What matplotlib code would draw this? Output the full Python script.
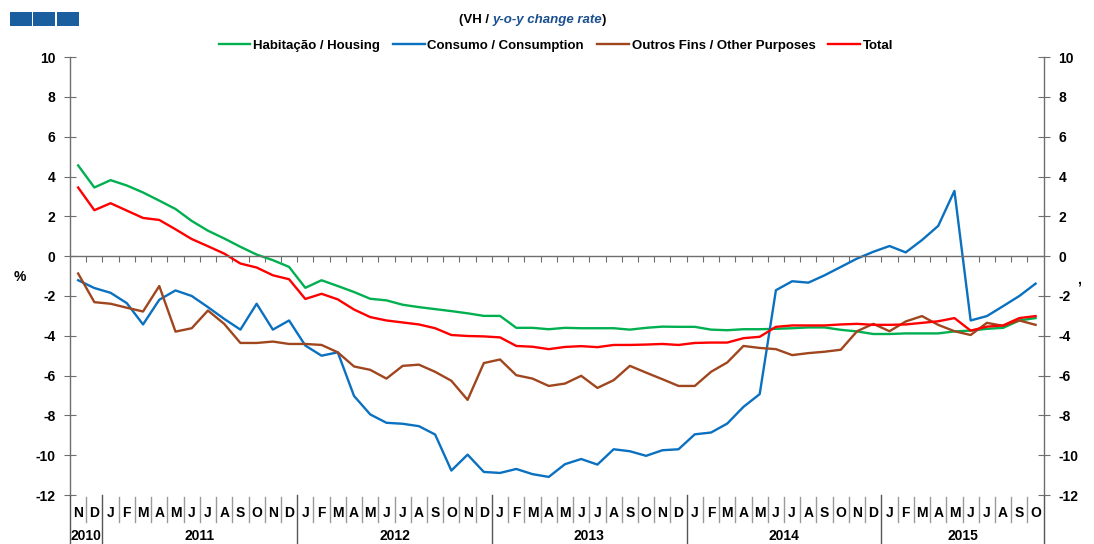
import numpy as np
import matplotlib
matplotlib.use('Agg')
import matplotlib.pyplot as plt
import matplotlib.transforms as mtransforms
from matplotlib.offsetbox import TextArea, HPacker, AnchoredOffsetbox
from matplotlib.patches import Rectangle

plt.rcParams['font.family'] = ['Liberation Sans', 'DejaVu Sans']
plt.rcParams['axes.unicode_minus'] = False

# meses de Nov 2010 a Out 2015
meses = ['N', 'D'] + ['J', 'F', 'M', 'A', 'M', 'J', 'J', 'A', 'S', 'O', 'N', 'D'] * 4 + \
        ['J', 'F', 'M', 'A', 'M', 'J', 'J', 'A', 'S', 'O']
anos = ['2010', '2011', '2012', '2013', '2014', '2015']
meses_por_ano = [2, 12, 12, 12, 12, 10]

habitacao = [4.56, 3.45, 3.82, 3.55, 3.2, 2.79, 2.37, 1.77, 1.28, 0.89, 0.47, 0.08, -0.2, -0.54,
             -1.59, -1.21, -1.5, -1.8, -2.14, -2.22, -2.44, -2.56, -2.66, -2.76, -2.87, -3.0,
             -3.0, -3.6, -3.6, -3.67, -3.6, -3.62, -3.62, -3.62, -3.69, -3.6, -3.54, -3.55,
             -3.55, -3.69, -3.72, -3.67, -3.67, -3.65, -3.62, -3.58, -3.58, -3.7, -3.78, -3.91,
             -3.91, -3.88, -3.88, -3.88, -3.78, -3.74, -3.65, -3.6, -3.23, -3.11]
consumo = [-1.21, -1.6, -1.84, -2.36, -3.43, -2.19, -1.72, -2.0, -2.56, -3.15, -3.69, -2.39, -3.69,
           -3.23, -4.49, -5.0, -4.83, -7.02, -7.95, -8.37, -8.42, -8.54, -8.96, -10.77, -9.97,
           -10.84, -10.89, -10.69, -10.95, -11.09, -10.45, -10.19, -10.47, -9.7, -9.8, -10.03,
           -9.75, -9.7, -8.95, -8.86, -8.41, -7.57, -6.93, -1.71, -1.26, -1.33, -0.96, -0.54,
           -0.12, 0.22, 0.51, 0.19, 0.81, 1.52, 3.28, -3.23, -3.01, -2.51, -2.0, -1.38]
outros = [-0.87, -2.31, -2.39, -2.59, -2.78, -1.5, -3.79, -3.62, -2.73, -3.4, -4.36, -4.36, -4.29,
          -4.41, -4.41, -4.46, -4.83, -5.54, -5.71, -6.15, -5.51, -5.45, -5.81, -6.26, -7.22,
          -5.37, -5.19, -5.98, -6.15, -6.52, -6.4, -6.01, -6.62, -6.23, -5.51, -5.85, -6.18,
          -6.52, -6.52, -5.81, -5.34, -4.51, -4.61, -4.67, -4.97, -4.87, -4.8, -4.7, -3.77,
          -3.4, -3.77, -3.28, -3.01, -3.45, -3.77, -3.96, -3.35, -3.5, -3.23, -3.45]
total = [3.45, 2.31, 2.66, 2.29, 1.92, 1.82, 1.35, 0.86, 0.5, 0.13, -0.37, -0.57, -0.96, -1.16,
         -2.15, -1.89, -2.17, -2.68, -3.06, -3.23, -3.33, -3.43, -3.62, -3.96, -4.01, -4.03,
         -4.08, -4.51, -4.55, -4.67, -4.56, -4.52, -4.57, -4.46, -4.46, -4.44, -4.41, -4.46,
         -4.36, -4.34, -4.34, -4.12, -4.05, -3.55, -3.48, -3.48, -3.48, -3.43, -3.4, -3.45,
         -3.45, -3.43, -3.35, -3.27, -3.11, -3.74, -3.54, -3.48, -3.11, -3.01]

cinza = '#6e6e6e'

fig = plt.figure(figsize=(10.94, 5.44), dpi=100)
ax = fig.add_axes([0.064, 0.090, 0.890, 0.805])

x = np.arange(len(meses))
ax.plot(x, habitacao, color='#00b050', lw=1.7, label='Habitação / Housing')
ax.plot(x, consumo, color='#0a70c0', lw=1.7, label='Consumo / Consumption')
ax.plot(x, outros, color='#a0461e', lw=1.7, label='Outros Fins / Other Purposes')
ax.plot(x, total, color='#ff0000', lw=1.7, label='Total')

ax.set_xlim(-0.5, len(meses) - 0.5)
ax.set_ylim(-12, 10)
ax.set_yticks(range(-12, 11, 2))

# eixo x na linha do zero
ax.spines['top'].set_visible(False)
ax.spines['bottom'].set_position(('data', 0))
for s in ['bottom', 'left', 'right']:
    ax.spines[s].set_color(cinza)
    ax.spines[s].set_linewidth(1.0)
ax.set_xticks(np.arange(0.5, len(meses) - 1, 1))
ax.set_xticklabels([])
ax.tick_params(axis='x', direction='out', length=4, color=cinza)
ax.tick_params(axis='y', direction='inout', length=9, color=cinza, right=True,
               labelright=True, labelsize=10, pad=6)
plt.setp(ax.yaxis.get_majorticklabels(), fontweight='bold')

# rótulos dos meses e anos
trans = mtransforms.blended_transform_factory(ax.transData, ax.transAxes)
for i, m in enumerate(meses):
    ax.text(i, -0.040, m, transform=trans, ha='center', va='center',
            fontsize=10, fontweight='bold')
limites_ano = np.cumsum([0] + meses_por_ano) - 0.5
for b in np.arange(-0.5, len(meses), 1):
    if np.any(np.isclose(b, limites_ano)):
        ax.plot([b, b], [0, -0.115], transform=trans, color='#555555', lw=1.0, clip_on=False)
    else:
        ax.plot([b, b], [-0.004, -0.062], transform=trans, color='#9a9a9a', lw=1.0, clip_on=False)
for k, a in enumerate(anos):
    centro = (limites_ano[k] + limites_ano[k + 1]) / 2
    ax.text(centro, -0.094, a, transform=trans, ha='center', va='center',
            fontsize=10, fontweight='bold')

# legenda
leg = ax.legend(loc='center', bbox_to_anchor=(556 / 1094, 1 - 46 / 544),
                bbox_transform=fig.transFigure, ncol=4, frameon=False,
                handlelength=2.4, handletextpad=0.2, columnspacing=1.0,
                prop={'weight': 'bold', 'size': 9.5})

# título
partes = [TextArea('(VH / ', textprops=dict(fontweight='bold', fontsize=9.5, color='black')),
          TextArea('y-o-y change rate', textprops=dict(fontweight='bold', style='italic',
                                                        fontsize=9.5, color='#1a4f8f')),
          TextArea(')', textprops=dict(fontweight='bold', fontsize=9.5, color='black'))]
caixa = HPacker(children=partes, align='baseline', pad=0, sep=0)
anc = AnchoredOffsetbox(loc='center', child=caixa, frameon=False, pad=0,
                        bbox_to_anchor=(533 / 1094, 1 - 20 / 544),
                        bbox_transform=fig.transFigure)
fig.add_artist(anc)

# quadrados azuis
for x0 in [10, 33, 57]:
    fig.add_artist(Rectangle((x0 / 1094, 1 - 26 / 544), 22 / 1094, 14 / 544,
                             transform=fig.transFigure, color='#1a5ea0', lw=0))

fig.text(20 / 1094, 1 - 277 / 544, '%', fontsize=10, fontweight='bold', ha='center', va='center')
fig.text(1079 / 1094, 1 - 279 / 544, ',', fontsize=10, fontweight='bold', ha='center', va='center')

fig.savefig('out.png', dpi=100)
